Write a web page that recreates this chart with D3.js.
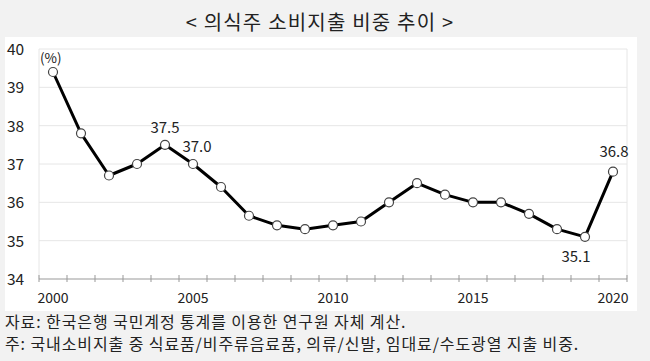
<!DOCTYPE html>
<html><head><meta charset="utf-8">
<script src="https://cdn.jsdelivr.net/npm/d3@7"></script>
<style>
body{margin:0;background:#f2f2f2;}
svg{display:block;font-family:"Noto Sans CJK KR","Noto Sans",sans-serif;}
</style></head>
<body><svg id="c" width="650" height="361"></svg>
<script>
const years = d3.range(2000, 2021);
const values = [39.4,37.8,36.7,37.0,37.5,37.0,36.4,35.65,35.4,35.3,35.4,35.5,36.0,36.5,36.2,36.0,36.0,35.7,35.3,35.1,36.8];
const yTicks = [34,35,36,37,38,39,40];
const xTickLabels = [2000,2005,2010,2015,2020];
const labelled = [
  {year:2004, text:"37.5", dx:0, dy:-12},
  {year:2005, text:"37.0", dx:4, dy:-12},
  {year:2019, text:"35.1", dx:-9, dy:25},
  {year:2020, text:"36.8", dx:1, dy:-15}
];
const title = "< 의식주 소비지출 비중 추이 >";
const notes = ["자료: 한국은행 국민계정 통계를 이용한 연구원 자체 계산.",
               "주: 국내소비지출 중 식료품/비주류음료품, 의류/신발, 임대료/수도광열 지출 비중."];

const svg = d3.select("#c");
svg.append("rect").attr("x",5).attr("y",37).attr("width",632).attr("height",274).attr("fill","#fff");
svg.append("text").attr("x",320).attr("y",30).attr("text-anchor","middle")
  .attr("font-size",20).attr("letter-spacing",1.2).attr("fill","#222").text(title);

const x = d3.scaleBand().domain(years).range([39,627]);
const y = d3.scaleLinear().domain([34,40]).range([279,49]);
const cx = d => x(d) + x.bandwidth()/2;

// gridlines
svg.append("g").selectAll("line").data(yTicks.filter(t=>t>34)).join("line")
  .attr("x1",39).attr("x2",627).attr("y1",d=>y(d)).attr("y2",d=>y(d))
  .attr("stroke","#e6e6e6").attr("stroke-width",1);
svg.append("line").attr("x1",627).attr("x2",627).attr("y1",y(40)).attr("y2",y(34)).attr("stroke","#e6e6e6");
svg.append("line").attr("x1",39).attr("x2",39).attr("y1",y(40)).attr("y2",y(34)).attr("stroke","#e6e6e6");

// y labels
svg.append("g").selectAll("text").data(yTicks).join("text")
  .attr("x",7).attr("y",d=>y(d)+6).attr("font-size",15.5).attr("fill","#222").text(d=>d);

// x axis
const xa = svg.append("g").attr("transform","translate(0,279)");
xa.append("line").attr("x1",39).attr("x2",627).attr("stroke","#999");
const bounds = years.map(d=>x(d)).concat([627]);
xa.selectAll("line.t").data(bounds).join("line").attr("class","t")
  .attr("x1",d=>d).attr("x2",d=>d).attr("y1",-4).attr("y2",3).attr("stroke","#999");
xa.selectAll("text").data(xTickLabels).join("text")
  .attr("x",d=>cx(d)).attr("y",24).attr("text-anchor","middle")
  .attr("font-size",14).attr("fill","#222").text(d=>d);

// unit
svg.append("text").attr("x",40).attr("y",63).attr("font-size",13.5).attr("fill","#222").text("(%)");

// line
const line = d3.line().x((d,i)=>cx(years[i])).y(d=>y(d));
svg.append("path").datum(values).attr("d",line).attr("fill","none")
  .attr("stroke","#000").attr("stroke-width",3).attr("stroke-linejoin","round");
svg.append("g").selectAll("circle").data(values).join("circle")
  .attr("cx",(d,i)=>cx(years[i])).attr("cy",d=>y(d)).attr("r",4.5)
  .attr("fill","#fff").attr("stroke","#444").attr("stroke-width",1.2);

// value labels
svg.append("g").selectAll("text").data(labelled).join("text")
  .attr("x",d=>cx(d.year)+d.dx).attr("y",d=>y(values[years.indexOf(d.year)])+d.dy)
  .attr("text-anchor","middle").attr("font-size",15).attr("fill","#222").text(d=>d.text);

// notes
svg.append("g").selectAll("text").data(notes).join("text")
  .attr("x",5).attr("y",(d,i)=>328+i*22).attr("font-size",16).attr("letter-spacing",0.9).attr("fill","#222").text(d=>d);
</script></body></html>
